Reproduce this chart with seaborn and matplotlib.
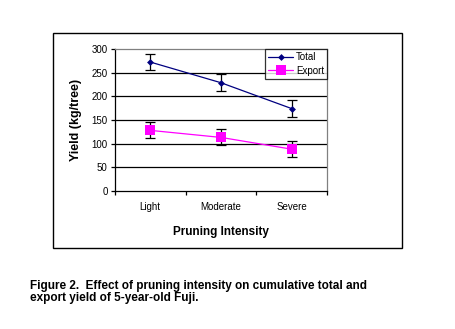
import matplotlib
matplotlib.use("Agg")
import matplotlib.pyplot as plt
import seaborn as sns
import pandas as pd
from matplotlib.patches import Rectangle
from matplotlib.lines import Line2D

categories = ["Light", "Moderate", "Severe"]
total = [273, 229, 174]
total_err = [17, 18, 18]
export = [128, 113, 88]
export_err = [17, 17, 17]
yticks = [0, 50, 100, 150, 200, 250, 300]

sns.set_theme(style="white")
plt.rcParams['font.family'] = ['Liberation Sans', 'DejaVu Sans']
plt.rcParams['text.color'] = 'black'
plt.rcParams['axes.labelcolor'] = 'black'
plt.rcParams['xtick.color'] = 'black'
plt.rcParams['ytick.color'] = 'black'

fig = plt.figure(figsize=(4.55, 3.29), dpi=100)
fig.patch.set_facecolor("white")

# outer box
fig.patches.append(Rectangle((0.117, 0.2453), 0.7657, 0.6535, transform=fig.transFigure,
                             fill=False, edgecolor="black", linewidth=1.0, zorder=0))

ax = fig.add_axes([0.2521, 0.4204, 0.4673, 0.4298])
ax.set_facecolor("white")

x = list(range(len(categories)))
df = pd.DataFrame({"x": x * 2, "y": total + export,
                   "series": ["Total"] * 3 + ["Export"] * 3})

for yv in yticks[1:-1]:
    ax.axhline(yv, color="black", linewidth=0.9, zorder=1)

ax.errorbar(x, total, yerr=total_err, fmt="none", ecolor="black", elinewidth=0.9,
            capsize=3.5, capthick=0.9, zorder=3)
ax.errorbar(x, export, yerr=export_err, fmt="none", ecolor="black", elinewidth=0.9,
            capsize=3.5, capthick=0.9, zorder=3)

sns.lineplot(data=df, x="x", y="y", hue="series", style="series",
             palette={"Total": "#000080", "Export": "#FF00FF"},
             markers={"Total": "D", "Export": "s"}, dashes=False,
             linewidth=0.9, ax=ax, zorder=4, legend=False)
for ln in ax.lines:
    c = matplotlib.colors.to_hex(ln.get_color())
    if c == "#000080":
        ln.set_markersize(3.5); ln.set_markeredgewidth(0)
    elif c == "#ff00ff":
        ln.set_markersize(6.5); ln.set_markeredgewidth(0)

ax.set_xlim(-0.5, 2.5)
ax.set_ylim(0, 300)
ax.set_yticks(yticks)
ax.set_yticklabels([str(v) for v in yticks], fontsize=7)
ax.set_xticks([-0.5, 0.5, 1.5, 2.5])
ax.set_xticklabels([])
ax.set_xticks(x, minor=True)
ax.set_xticklabels(categories, minor=True, fontsize=7)
ax.tick_params(axis="x", which="major", direction="out", length=3, width=0.9,
               color="black", bottom=True)
ax.tick_params(axis="x", which="minor", length=0, pad=8, labelcolor="black")
ax.tick_params(axis="y", direction="out", length=3, width=0.9, color="black",
               left=True, pad=2, labelcolor="black")

for s in ["left", "bottom"]:
    ax.spines[s].set_color("black"); ax.spines[s].set_linewidth(0.9)
for s in ["top", "right"]:
    ax.spines[s].set_color("#808080"); ax.spines[s].set_linewidth(0.9)

ax.set_xlabel("Pruning Intensity", fontsize=8.5, fontweight="bold", labelpad=10,
              color="black")
ax.set_ylabel("Yield (kg/tree)", fontsize=9, fontweight="bold", labelpad=7,
              color="black")

handles = [Line2D([], [], color="#000080", marker="D", markersize=3.5, linewidth=0.9,
                  markeredgewidth=0),
           Line2D([], [], color="#FF00FF", marker="s", markersize=6.5, linewidth=0.9,
                  markeredgewidth=0)]
leg = ax.legend(handles, ["Total", "Export"], loc="upper right",
                bbox_to_anchor=(1.0, 1.0), fontsize=7, frameon=True, fancybox=False,
                borderpad=0.3, labelspacing=0.35, handlelength=2.6, handletextpad=0.3,
                borderaxespad=0, labelcolor="black")
leg.get_frame().set_edgecolor("black")
leg.get_frame().set_linewidth(0.9)

fig.text(0.066, 0.076, "Figure 2.  Effect of pruning intensity on cumulative total and\nexport yield of 5-year-old Fuji.",
         fontsize=8.5, fontweight="bold", ha="left", va="bottom", linespacing=1.0,
         color="black")

fig.savefig("out.png", dpi=100)
